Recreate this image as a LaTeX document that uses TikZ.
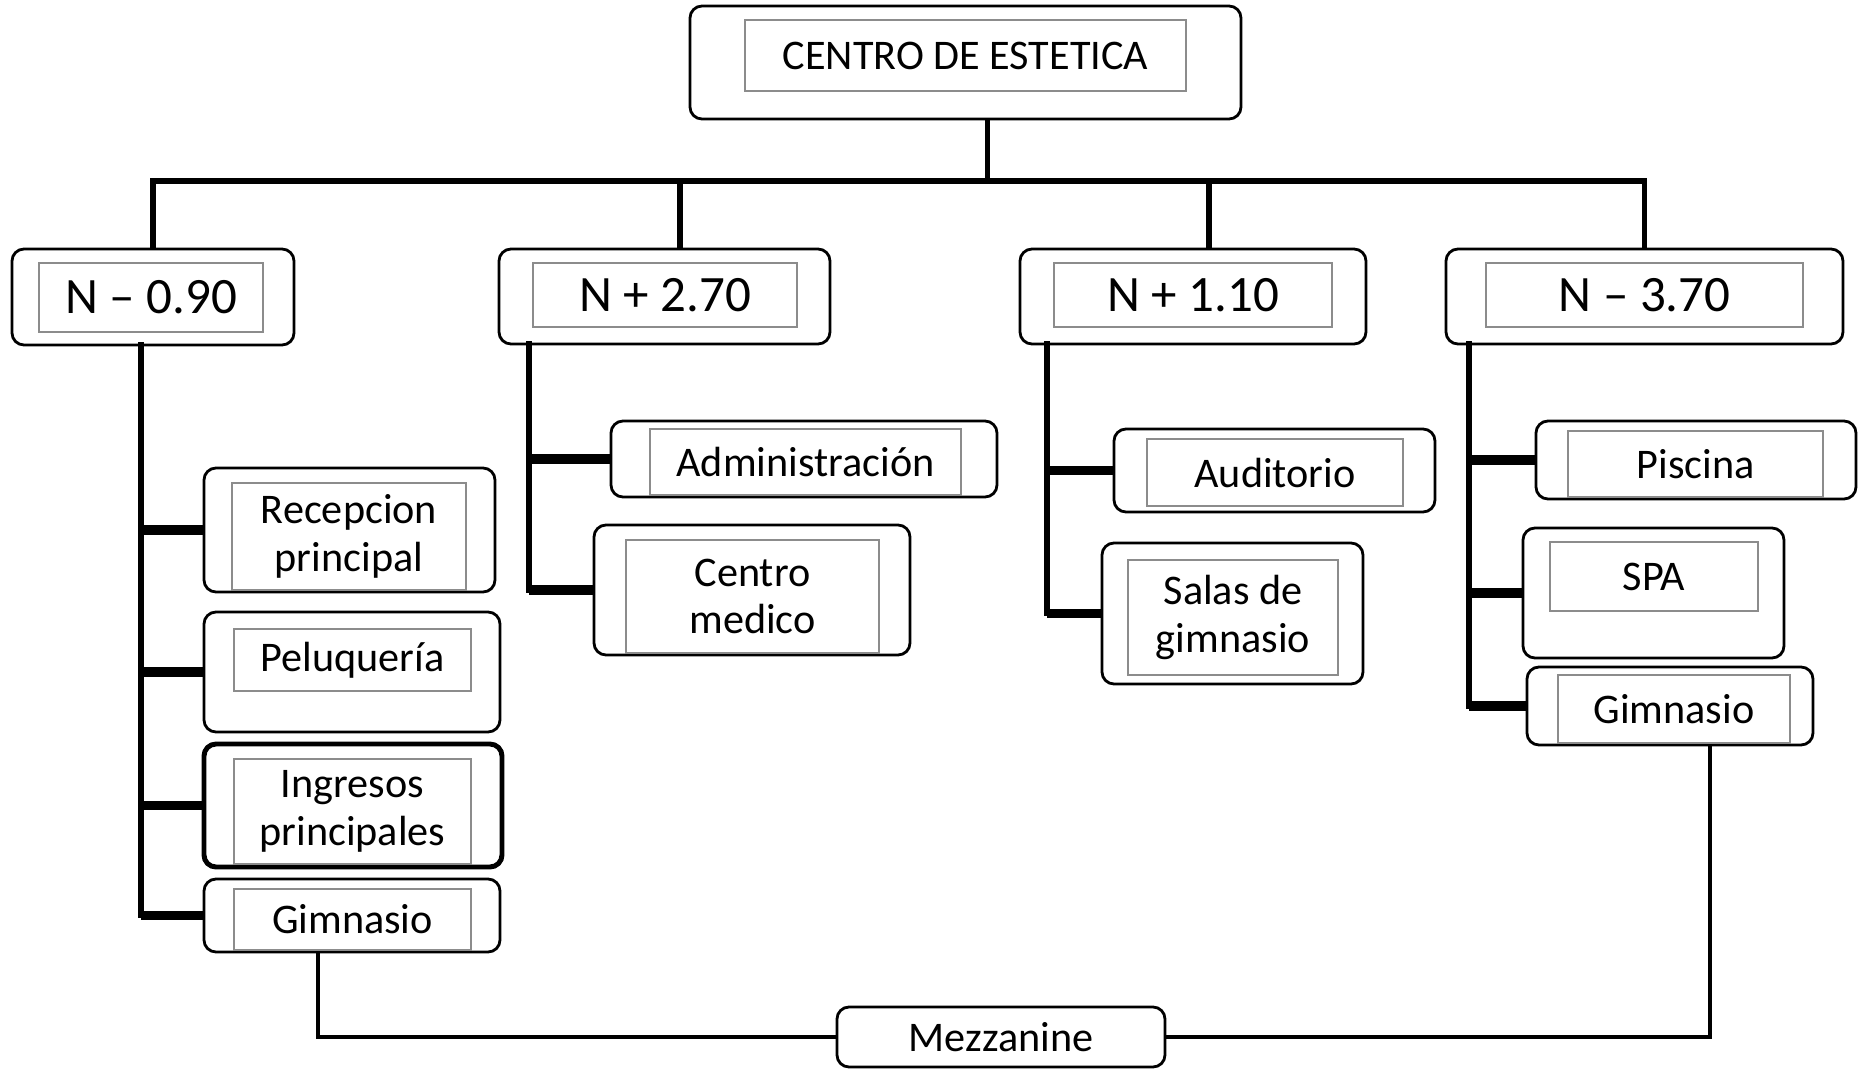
\documentclass[tikz,border=0pt]{standalone}
\usepackage{fontspec}
\setmainfont{Carlito}
\usetikzlibrary{positioning,fit,calc}
\tikzset{
    box/.style={draw, rounded corners=0.12cm, line width=0.8pt, inner sep=0pt},
    inbox/.style={draw=black!45, line width=0.5pt, inner sep=0pt},
    txt/.style={align=center, inner sep=0pt, font=\fontsize{12}{13.5}\selectfont},
    lvl/.style={txt, font=\fontsize{14.5}{17}\selectfont},
    bus/.style={line width=1.5pt, line cap=rect},
    stub/.style={line width=2.6pt},
    link/.style={line width=1.2pt}
}

\begin{document}
\begin{tikzpicture}[x=0.01cm,y=-0.01cm]
    \useasboundingbox (0,0) rectangle (1859,1069);
    % main box
    \node[box, fit={(690,6) (1241,119)}] (top) {};
    \node[inbox, fit={(745,20) (1186,91)}] (topi) {};
    \node[txt] (topt) at (topi) {CENTRO DE ESTETICA};

    % levels
    \node[box, fit={(12,249) (294,345)}] (lvlA) {};
    \node[inbox, fit={(39,263) (263,332)}] (iA) {};
    \node[lvl] (tA) at (iA) {N -- 0.90};
    \node[box, fit={(499,249) (830,344)}] (lvlB) {};
    \node[inbox, fit={(533,263) (797,327)}] (iB) {};
    \node[lvl] (tB) at (iB) {N + 2.70};
    \node[box, fit={(1020,249) (1366,344)}] (lvlC) {};
    \node[inbox, fit={(1054,263) (1332,327)}] (iC) {};
    \node[lvl] (tC) at (iC) {N + 1.10};
    \node[box, fit={(1446,249) (1843,344)}] (lvlD) {};
    \node[inbox, fit={(1486,263) (1803,327)}] (iD) {};
    \node[lvl] (tD) at (iD) {N -- 3.70};

    % N - 0.90
    \node[box, fit={(204,468) (495,592)}] (recep) {};
    \node[inbox, fit={(232,483) (466,590)}] (irecep) {};
    \node[txt] (trecep) at (irecep) {Recepcion\\principal};
    \node[box, fit={(204,612) (500,732)}] (pelu) {};
    \node[inbox, fit={(234,629) (471,691)}] (ipelu) {};
    \node[txt] (tpelu) at (ipelu) {Peluquería};
    \node[box, line width=1.4pt, fit={(204,744) (502,867)}] (ingr) {};
    \node[inbox, fit={(234,759) (471,864)}] (iingr) {};
    \node[txt] (tingr) at (iingr) {Ingresos\\principales};
    \node[box, fit={(204,879) (500,952)}] (gymL) {};
    \node[inbox, fit={(234,889) (471,950)}] (igymL) {};
    \node[txt] (tgymL) at (igymL) {Gimnasio};

    % N + 2.70
    \node[box, fit={(611,421) (997,497)}] (admin) {};
    \node[inbox, fit={(650,429) (961,495)}] (iadmin) {};
    \node[txt] (tadmin) at (iadmin) {Administración};
    \node[box, fit={(594,525) (910,655)}] (cmed) {};
    \node[inbox, fit={(626,540) (879,653)}] (icmed) {};
    \node[txt] (tcmed) at (icmed) {Centro\\medico};

    % N + 1.10
    \node[box, fit={(1114,429) (1435,512)}] (audit) {};
    \node[inbox, fit={(1147,439) (1403,506)}] (iaudit) {};
    \node[txt] (taudit) at (iaudit) {Auditorio};
    \node[box, fit={(1102,543) (1363,684)}] (salas) {};
    \node[inbox, fit={(1128,560) (1338,675)}] (isalas) {};
    \node[txt] (tsalas) at (isalas) {Salas de\\gimnasio};

    % N - 3.70
    \node[box, fit={(1536,421) (1856,499)}] (pisc) {};
    \node[inbox, fit={(1568,431) (1823,497)}] (ipisc) {};
    \node[txt] (tpisc) at (ipisc) {Piscina};
    \node[box, fit={(1523,528) (1784,658)}] (spa) {};
    \node[inbox, fit={(1550,542) (1758,611)}] (ispa) {};
    \node[txt] (tspa) at (ispa) {SPA};
    \node[box, fit={(1527,667) (1813,745)}] (gymR) {};
    \node[inbox, fit={(1558,675) (1790,743)}] (igymR) {};
    \node[txt] (tgymR) at (igymR) {Gimnasio};

    \node[box, fit={(837,1007) (1165,1067)}] (mezz) {};
    \node[txt] (tmezz) at (mezz) {Mezzanine};

    % bus
    \coordinate (busY) at (0,181);
    \coordinate (stem) at ([xshift=0.22cm]top.south);
    \coordinate (dropB) at ([xshift=0.155cm]lvlB.north);
    \coordinate (dropC) at ([xshift=0.16cm]lvlC.north);
    \draw[bus] (stem) -- (stem |- busY);
    \draw[bus] (lvlA.north) |- (lvlD.north |- busY) -- (lvlD.north);
    \draw[bus] (dropB) -- (dropB |- busY);
    \draw[bus] (dropC) -- (dropC |- busY);

    % spines
    \coordinate (spA) at (141,345);
    \coordinate (spB) at (529,344);
    \coordinate (spC) at (1047,344);
    \coordinate (spD) at (1469,344);
    \draw[bus] (spA) -- (spA |- gymL.west);
    \draw[bus] (spB) -- (spB |- cmed.west);
    \draw[bus] (spC) -- (spC |- salas.west);
    \draw[bus] (spD) -- (spD |- gymR.west);
    \foreach \n/\s in {recep/spA, pelu/spA, ingr/spA, gymL/spA,
                      admin/spB, cmed/spB, audit/spC, salas/spC,
                      pisc/spD, spa/spD, gymR/spD}
        \draw[stub] (\n.west) -- (\n.west -| \s);

    % mezzanine
    \coordinate (mzL) at ([xshift=-0.34cm]gymL.south);
    \coordinate (mzR) at ([xshift=0.4cm]gymR.south);
    \draw[link] (mzL) |- (mezz.west);
    \draw[link] (mzR) |- (mezz.east);
\end{tikzpicture}
\end{document}
